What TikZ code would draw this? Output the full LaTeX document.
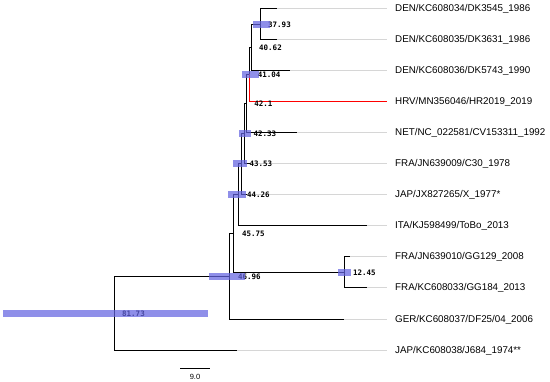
\documentclass[tikz,border=0pt]{standalone}
\usepackage{fontspec}
\setmainfont{Liberation Sans}
\newfontfamily\numfont{DejaVu Sans Mono}
\definecolor{barblue}{RGB}{100,100,225}
\tikzset{
  treeline/.style={line width=1.8pt, draw=black},
  hrvline/.style={line width=1.5pt, draw=red},
  guide/.style={draw=black!16, line width=0.8pt},
  hpd/.style={fill=barblue, fill opacity=0.72, draw=none},
  tiplab/.style={anchor=west, inner sep=0pt, font=\fontsize{9.8}{11}\selectfont},
  nodelab/.style={anchor=west, inner sep=0pt, font=\numfont\bfseries\fontsize{7.5}{8}\selectfont},
  scalelab/.style={inner sep=0pt, font=\fontsize{7.5}{8}\selectfont}}
\begin{document}
\begin{tikzpicture}[x=1pt,y=-1pt]
\useasboundingbox (0,0) rectangle (550,382);
% tips
\coordinate (t1) at (276.5,8.5);
\coordinate (t2) at (276.5,39.5);
\coordinate (t3) at (289.5,70.5);
\coordinate (t4) at (386.5,101.5);
\coordinate (t5) at (296.5,132.5);
\coordinate (t6) at (249.5,163.5);
\coordinate (t7) at (246.5,194.5);
\coordinate (t8) at (366.5,225.5);
\coordinate (t9) at (349.5,256.5);
\coordinate (t10) at (366.5,287.5);
\coordinate (t11) at (343.5,319.5);
\coordinate (t12) at (236.5,350.5);
% internal nodes
\coordinate (nA) at (260.5,24.5);
\coordinate (nB) at (251.5,47.5);
\coordinate (nC) at (249.5,74.5);
\coordinate (nD) at (246.5,103.5);
\coordinate (nE) at (244.5,133.5);
\coordinate (nF) at (241.5,163.5);
\coordinate (nG) at (238.5,194.5);
\coordinate (nJ) at (344.5,272.5);
\coordinate (nH) at (233.5,233.5);
\coordinate (nI) at (229.5,276.5);
\coordinate (nR) at (114.5,313.5);
% tip labels
\node[tiplab] (l1) at (395,8.5) {DEN/KC608034/DK3545\_1986};
\node[tiplab] (l2) at (395,39.5) {DEN/KC608035/DK3631\_1986};
\node[tiplab] (l3) at (395,70.5) {DEN/KC608036/DK5743\_1990};
\node[tiplab] (l4) at (395,101.5) {HRV/MN356046/HR2019\_2019};
\node[tiplab] (l5) at (395,132.5) {NET/NC\_022581/CV153311\_1992};
\node[tiplab] (l6) at (395,163.5) {FRA/JN639009/C30\_1978};
\node[tiplab] (l7) at (395,194.5) {JAP/JX827265/X\_1977*};
\node[tiplab] (l8) at (395,225.5) {ITA/KJ598499/ToBo\_2013};
\node[tiplab] (l9) at (395,256.5) {FRA/JN639010/GG129\_2008};
\node[tiplab] (l10) at (395,287.5) {FRA/KC608033/GG184\_2013};
\node[tiplab] (l11) at (395,319.5) {GER/KC608037/DF25/04\_2006};
\node[tiplab] (l12) at (395,350.5) {JAP/KC608038/J684\_1974**};
% guide lines
\foreach \i in {1,2,3,5,6,7,8,9,10,11,12}
  \draw[guide] (t\i) -- ([xshift=-8pt]l\i.west);
% branches
\draw[treeline] (nA) |- (t1);
\draw[treeline] (nA) |- (t2);
\draw[treeline] (nB) |- (nA);
\draw[treeline] (nB) |- (t3);
\draw[treeline] (nC) |- (nB);
\draw[treeline] (nD) |- (nC);
\draw[treeline] (nD) |- (t5);
\draw[treeline] (nE) |- (nD);
\draw[treeline] (nE) |- (t6);
\draw[treeline] (nF) |- (nE);
\draw[treeline] (nF) |- (t7);
\draw[treeline] (nG) |- (nF);
\draw[treeline] (nG) |- (t8);
\draw[treeline] (nJ) |- (t9);
\draw[treeline] (nJ) |- (t10);
\draw[treeline] (nH) |- (nG);
\draw[treeline] (nH) |- (nJ);
\draw[treeline] (nI) |- (nH);
\draw[treeline] (nI) |- (t11);
\draw[treeline] (nR) |- (nI);
\draw[treeline] (nR) |- (t12);
\draw[hrvline] (nC) |- (t4);
% node labels
\node[nodelab] (bA) at (268,24.5) {37.93};
\node[nodelab] (bB) at (259,47.5) {40.62};
\node[nodelab] (bC) at (257.6,74.5) {41.04};
\node[nodelab] (bD) at (254.1,104) {42.1};
\node[nodelab] (bE) at (253.3,133.5) {42.33};
\node[nodelab] (bF) at (249.3,164) {43.53};
\node[nodelab] (bG) at (246.9,195) {44.26};
\node[nodelab] (bH) at (241.9,234) {45.75};
\node[nodelab] (bI) at (237.9,276.5) {46.96};
\node[nodelab] (bR) at (122,313.5) {81.73};
\node[nodelab] (bJ) at (352.9,272.5) {12.45};
% HPD bars
\fill[hpd] (253,21) rectangle (270,28);
\fill[hpd] (242,71) rectangle (259,78);
\fill[hpd] (239,130) rectangle (251,137);
\fill[hpd] (233,160) rectangle (247,167);
\fill[hpd] (228,191) rectangle (246,198);
\fill[hpd] (209,273) rectangle (245,280);
\fill[hpd] (3,310) rectangle (208,317);
\fill[hpd] (338,269) rectangle (351,276);
% scale bar
\coordinate (s1) at (180,368.5);
\coordinate (s2) at (210,368.5);
\draw[line width=0.8pt] (s1) -- (s2);
\node[scalelab] (sl) at (195,376.5) {9.0};
\end{tikzpicture}
\end{document}
